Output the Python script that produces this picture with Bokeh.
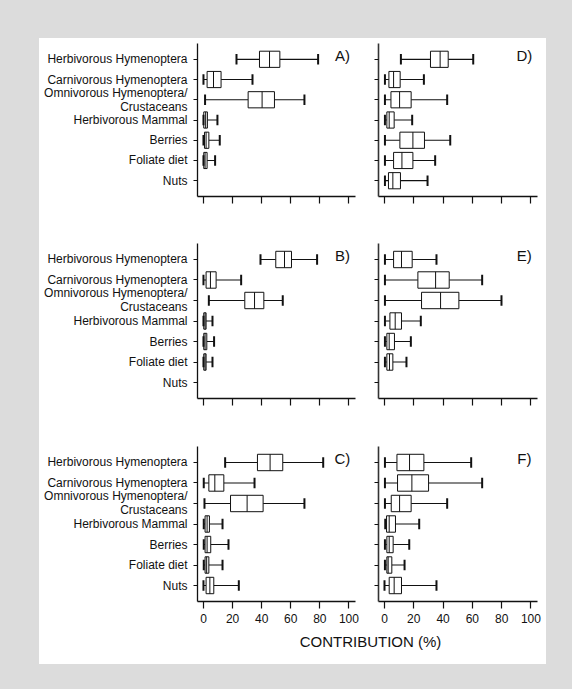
from bokeh.plotting import figure
from bokeh.models import ColumnDataSource, Range1d, FixedTicker, Label
from bokeh.layouts import row, column
from bokeh.embed import file_html
from bokeh.resources import INLINE

categories = ["Herbivorous Hymenoptera", "Carnivorous Hymenoptera",
              "Omnivorous Hymenoptera/\nCrustaceans", "Herbivorous Mammal",
              "Berries", "Foliate diet", "Nuts"]
x_ticks = [0, 20, 40, 60, 80, 100]
x_title = "CONTRIBUTION (%)"
N = None

# whisker low, first quartile, median, third quartile, whisker high (per category)
A_low = [22.7, 0.0, 1.1, 0.0, 0.0, 0.0, N]
A_q1 = [38.5, 2.5, 30.7, 0.2, 0.7, 0.2, N]
A_med = [45.4, 6.9, 40.3, 1.5, 1.8, 1.1, N]
A_q3 = [52.5, 12.1, 48.8, 2.7, 3.7, 2.5, N]
A_high = [78.8, 33.7, 69.4, 9.6, 11.2, 8.0, N]

B_low = [39.2, 0.0, 3.7, 0.0, 0.0, 0.0, N]
B_q1 = [49.7, 1.8, 28.4, 0.2, 0.2, 0.2, N]
B_med = [55.7, 4.8, 35.1, 1.1, 1.1, 1.1, N]
B_q3 = [60.5, 8.7, 41.5, 1.8, 2.3, 1.8, N]
B_high = [78.1, 25.9, 54.5, 6.2, 7.3, 6.2, N]

C_low = [14.9, 0.2, 0.7, 0.2, 0.2, 0.2, 0.0]
C_q1 = [37.1, 3.7, 18.6, 1.1, 1.1, 1.1, 1.8]
C_med = [45.8, 7.8, 30.0, 2.5, 2.5, 2.2, 4.4]
C_q3 = [54.5, 14.0, 41.0, 4.1, 5.0, 3.7, 7.1]
C_high = [82.3, 35.1, 69.4, 13.1, 17.2, 13.1, 24.3]

D_low = [11.2, 0.3, 0.3, 0.3, 0.3, 0.3, 0.3]
D_q1 = [31.4, 3.0, 4.4, 1.6, 10.5, 6.2, 2.7]
D_med = [38.0, 6.2, 10.3, 3.2, 19.4, 11.9, 5.7]
D_q3 = [43.5, 10.7, 18.2, 6.6, 27.3, 19.4, 10.9]
D_high = [60.6, 26.9, 42.8, 18.9, 44.9, 34.6, 29.4]

E_low = [0.3, 0.3, 0.3, 0.3, 0.3, 0.3, N]
E_q1 = [6.2, 22.8, 25.3, 3.7, 1.6, 1.6, N]
E_med = [11.6, 34.9, 38.3, 7.3, 3.2, 3.4, N]
E_q3 = [18.9, 44.2, 50.8, 11.6, 6.8, 5.7, N]
E_high = [35.5, 66.7, 79.9, 24.8, 18.0, 15.0, N]

F_low = [0.3, 0.3, 0.3, 0.5, 0.3, 0.3, 0.0]
F_q1 = [8.5, 8.9, 4.6, 1.4, 1.6, 1.6, 3.2]
F_med = [17.1, 18.7, 10.3, 3.2, 3.2, 2.5, 6.6]
F_q3 = [26.9, 30.1, 18.2, 7.5, 5.9, 5.0, 11.6]
F_high = [59.2, 66.7, 42.8, 23.7, 16.9, 13.7, 35.5]

FONT = "Liberation Sans"
INK = "#111111"


def make_panel(tag, lo, q1, med, q3, hi, width, height, mbl, mbr, mbt, mbb,
               ylabels, xlabels):
    p = figure(width=width, height=height, x_range=Range1d(-4.1, 104.5),
               y_range=Range1d(7.78, 0.22), output_backend="svg",
               toolbar_location=None, min_border_left=mbl, min_border_right=mbr,
               min_border_top=mbt, min_border_bottom=mbb)
    p.outline_line_color = None
    p.grid.visible = False
    p.background_fill_color = "white"
    p.border_fill_color = "white"

    idx = [i for i in range(len(categories)) if lo[i] is not None]
    ys = [i + 1 for i in idx]
    src = ColumnDataSource(dict(
        y=ys,
        lo=[lo[i] for i in idx], q1=[q1[i] for i in idx], med=[med[i] for i in idx],
        q3=[q3[i] for i in idx], hi=[hi[i] for i in idx],
        ytop=[y - 0.4 for y in ys], ybot=[y + 0.4 for y in ys],
        ctop=[y - 0.26 for y in ys], cbot=[y + 0.26 for y in ys],
    ))
    p.segment(x0="lo", y0="y", x1="q1", y1="y", source=src, line_color=INK, line_width=1.2)
    p.segment(x0="q3", y0="y", x1="hi", y1="y", source=src, line_color=INK, line_width=1.2)
    p.hbar(y="y", left="q1", right="q3", height=0.8, source=src,
           fill_color="white", line_color=INK, line_width=1)
    p.segment(x0="med", y0="ytop", x1="med", y1="ybot", source=src, line_color=INK, line_width=1)
    p.segment(x0="lo", y0="ctop", x1="lo", y1="cbot", source=src, line_color=INK, line_width=2)
    p.segment(x0="hi", y0="ctop", x1="hi", y1="cbot", source=src, line_color=INK, line_width=2)

    p.add_layout(Label(x=95.5, y=0.8, text=tag, text_align="center",
                       text_baseline="middle", text_font=FONT,
                       text_font_size="15px", text_color=INK))

    xa = p.xaxis[0]
    xa.ticker = FixedTicker(ticks=x_ticks)
    xa.minor_tick_line_color = None
    xa.major_tick_out = 7
    xa.major_tick_in = 0
    xa.axis_line_color = INK
    xa.major_tick_line_color = INK
    xa.axis_line_width = 1.3
    xa.major_tick_line_width = 1.2
    xa.major_label_text_font = FONT
    xa.major_label_text_font_size = "12px"
    if xlabels:
        xa.major_label_text_color = INK
        xa.major_label_standoff = 5
    else:
        xa.major_label_overrides = {t: "" for t in x_ticks}
        xa.major_label_text_color = None
        xa.major_label_standoff = 0

    ya = p.yaxis[0]
    ya.ticker = FixedTicker(ticks=list(range(1, len(categories) + 1)))
    ya.minor_tick_line_color = None
    ya.major_tick_out = 4
    ya.major_tick_in = 0
    ya.axis_line_color = INK
    ya.major_tick_line_color = INK
    ya.axis_line_width = 1.3
    ya.major_tick_line_width = 1.2
    ya.major_label_text_font = FONT
    ya.major_label_text_font_size = "12px"
    if ylabels:
        ya.major_label_overrides = {i + 1: c for i, c in enumerate(categories)}
        ya.major_label_text_color = INK
        ya.major_label_text_line_height = 1.0
        ya.major_label_standoff = 6
    else:
        ya.major_label_overrides = {i + 1: "" for i in range(len(categories))}
        ya.major_label_text_color = None
        ya.major_label_standoff = 0
        ya.axis_line_width = 1.6
        ya.axis_line_color = "#333333"
    return p


LW, RW = 329, 178
pA = make_panel("A)", A_low, A_q1, A_med, A_q3, A_high, LW, 200, 158, 13, 5, 42, True, False)
pD = make_panel("D)", D_low, D_q1, D_med, D_q3, D_high, RW, 200, 10, 9, 5, 42, False, False)
pB = make_panel("B)", B_low, B_q1, B_med, B_q3, B_high, LW, 202, 158, 13, 5, 42, True, False)
pE = make_panel("E)", E_low, E_q1, E_med, E_q3, E_high, RW, 202, 10, 9, 5, 42, False, False)
pC = make_panel("C)", C_low, C_q1, C_med, C_q3, C_high, LW, 188, 158, 13, 6, 27, True, True)
pF = make_panel("F)", F_low, F_q1, F_med, F_q3, F_high, RW, 188, 10, 9, 6, 27, False, True)

pT = figure(width=LW + RW, height=36, x_range=Range1d(0, LW + RW), y_range=Range1d(0, 36),
            output_backend="svg", toolbar_location=None, min_border=0)
pT.axis.visible = False
pT.grid.visible = False
pT.outline_line_color = None
pT.border_fill_color = "white"
pT.add_layout(Label(x=331, y=23, text=x_title, text_align="center", text_baseline="middle",
                    text_font=FONT, text_font_size="15px", text_color=INK))

WHITE = {"background-color": "white"}
inner = column(row(pA, pD, styles=WHITE), row(pB, pE, styles=WHITE),
               row(pC, pF, styles=WHITE), pT,
               margin=(38, 26, 25, 39), styles=WHITE)
p = column(inner, width=572, height=689, styles={"background-color": "#dcdcdc"})

open("out.html", "w").write(file_html(p, INLINE))
